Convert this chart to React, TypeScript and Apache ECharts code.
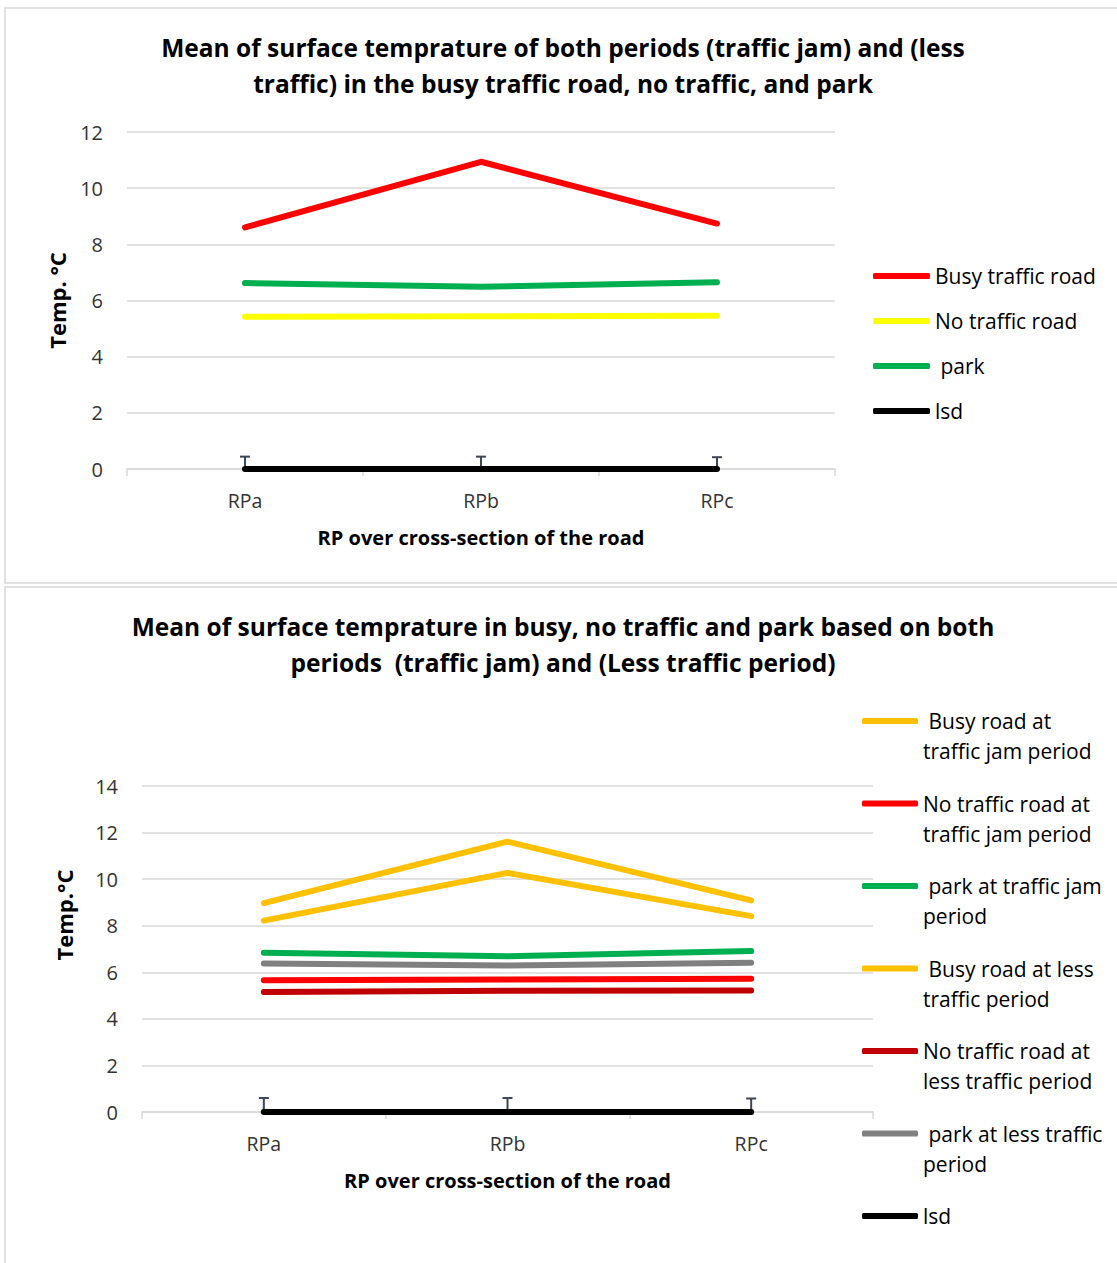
import React, { useEffect, useRef } from "react";
import * as echarts from "echarts";

const categories = ["RPa", "RPb", "RPc"];

// Top chart
const topBusy = [8.6, 10.94, 8.74];
const topNoTraffic = [5.42, 5.44, 5.46];
const topPark = [6.62, 6.49, 6.65];
const topLsd = [0, 0, 0];
const topLsdErr = [0.44, 0.44, 0.42];

// Bottom chart
const busyJam = [8.97, 11.61, 9.09];
const noTrafficJam = [5.66, 5.69, 5.72];
const parkJam = [6.84, 6.69, 6.91];
const busyLess = [8.22, 10.27, 8.41];
const noTrafficLess = [5.15, 5.21, 5.22];
const parkLess = [6.38, 6.29, 6.41];
const botLsd = [0, 0, 0];
const botLsdErr = [0.6, 0.6, 0.58];

const topTitle = "Mean of surface temprature of both periods (traffic jam) and (less\ntraffic) in the busy traffic road, no traffic, and park";
const botTitle = "Mean of surface temprature in busy, no traffic and park based on both\nperiods  (traffic jam) and (Less traffic period)";

const topNames = ["Busy traffic road", "No traffic road", " park", "lsd"];
const botNames = [
  "Busy road at traffic jam period",
  "No traffic road at traffic jam period",
  "park at traffic jam period",
  "Busy road at less traffic period",
  "No traffic road at less traffic period",
  "park at less traffic period",
  "lsd",
];
const botLegendText: Record<string, string> = {
  "Busy road at traffic jam period": "\n Busy road at\ntraffic jam period",
  "No traffic road at traffic jam period": "\nNo traffic road at\ntraffic jam period",
  "park at traffic jam period": "\n park at traffic jam\nperiod",
  "Busy road at less traffic period": "\n Busy road at less\ntraffic period",
  "No traffic road at less traffic period": "\nNo traffic road at\nless traffic period",
  "park at less traffic period": "\n park at less traffic\nperiod",
  lsd: "\nlsd\n",
};

const FONT = "Open Sans";

function lineSeries(name: string, data: number[], color: string, gi: number) {
  return {
    type: "line",
    name,
    data,
    xAxisIndex: gi,
    yAxisIndex: gi,
    symbol: "none",
    clip: false,
    color,
    lineStyle: { color, width: 6, cap: "round", join: "round" },
    z: 3,
  };
}

function errSeries(base: number[], err: number[], gi: number) {
  return {
    type: "custom",
    name: "err" + gi,
    xAxisIndex: gi,
    yAxisIndex: gi,
    clip: false,
    z: 2,
    data: categories.map((_, i) => [i, base[i], err[i]]),
    encode: { x: 0, y: 1 },
    renderItem: (params: any, api: any) => {
      const x = api.value(0);
      const b = api.coord([x, api.value(1)]);
      const t = api.coord([x, api.value(1) + api.value(2)]);
      const st = { stroke: "#3b4656", lineWidth: 2 };
      return {
        type: "group",
        children: [
          { type: "line", shape: { x1: b[0], y1: b[1], x2: t[0], y2: t[1] }, style: st },
          { type: "line", shape: { x1: t[0] - 5, y1: t[1], x2: t[0] + 5, y2: t[1] }, style: st },
        ],
      };
    },
  };
}

function xAxis(gi: number) {
  return {
    type: "category",
    gridIndex: gi,
    data: categories,
    boundaryGap: true,
    axisLine: { show: true, lineStyle: { color: "#d9d9d9", width: 1.5 } },
    axisTick: { show: true, length: 7, lineStyle: { color: "#d9d9d9", width: 1.5 } },
    axisLabel: { fontSize: 19.5, color: "#333", margin: 21, fontFamily: FONT },
    name: "RP over cross-section of the road",
    nameLocation: "middle",
    nameGap: 58,
    nameTextStyle: { fontSize: 20, fontWeight: "bold", color: "#000", fontFamily: FONT },
  };
}

function yAxis(gi: number, max: number, name: string, gap: number, pad: number[]) {
  return {
    type: "value",
    gridIndex: gi,
    min: 0,
    max,
    interval: 2,
    axisLine: { show: false },
    axisTick: { show: false },
    splitLine: { lineStyle: { color: "#d9d9d9", width: 1.5 } },
    axisLabel: { fontSize: 20, color: "#333", margin: 24, fontFamily: FONT },
    name,
    nameLocation: "middle",
    nameGap: gap,
    nameTextStyle: { fontSize: 22, fontWeight: "bold", color: "#000", fontFamily: FONT, padding: pad },
  };
}

export default function App() {
  const ref = useRef<HTMLDivElement>(null);
  useEffect(() => {
    if (!ref.current) return;
    const chart = echarts.init(ref.current, null, { renderer: "svg" });
    chart.setOption({
      animation: false,
      backgroundColor: "#fff",
      textStyle: { fontFamily: FONT },
      title: [
        {
          text: topTitle,
          left: 563,
          top: 29,
          padding: 0,
          textAlign: "center",
          textStyle: { fontSize: 24.5, fontWeight: "bold", color: "#000", lineHeight: 36, fontFamily: FONT },
        },
        {
          text: botTitle,
          left: 563,
          top: 608,
          padding: 0,
          textAlign: "center",
          textStyle: { fontSize: 24.5, fontWeight: "bold", color: "#000", lineHeight: 36, fontFamily: FONT },
        },
      ],
      graphic: [
        { type: "rect", shape: { x: 5, y: 8, width: 1120, height: 575 }, style: { fill: "none", stroke: "#d9d9d9", lineWidth: 1.5 }, z: -10 },
        { type: "rect", shape: { x: 5, y: 587, width: 1120, height: 690 }, style: { fill: "none", stroke: "#d9d9d9", lineWidth: 1.5 }, z: -10 },
      ],
      grid: [
        { left: 127, top: 132, width: 708, height: 337 },
        { left: 142, top: 786, width: 731, height: 326 },
      ],
      xAxis: [xAxis(0), xAxis(1)],
      yAxis: [yAxis(0, 12, "Temp. °C", 59, [0, 0, 0, 0]), yAxis(1, 14, "Temp.°C", 67, [0, 0, 0, 68])],
      legend: [
        {
          orient: "vertical",
          left: 873,
          top: 261,
          itemGap: 15,
          itemWidth: 57,
          itemHeight: 6,
          icon: "roundRect",
          data: topNames,
          padding: 0,
          textStyle: { fontSize: 21, lineHeight: 30, color: "#000", fontFamily: FONT },
        },
        {
          orient: "vertical",
          left: 862,
          top: 676,
          itemGap: -7.5,
          itemWidth: 56,
          itemHeight: 6,
          icon: "roundRect",
          data: botNames,
          padding: 0,
          formatter: (n: string) => botLegendText[n] ?? n,
          textStyle: { fontSize: 21, lineHeight: 30, color: "#000", fontFamily: FONT },
        },
      ],
      series: [
        errSeries(topLsd, topLsdErr, 0),
        lineSeries(topNames[0], topBusy, "#ff0000", 0),
        lineSeries(topNames[1], topNoTraffic, "#ffff00", 0),
        lineSeries(topNames[2], topPark, "#00b050", 0),
        lineSeries(topNames[3], topLsd, "#000000", 0),
        errSeries(botLsd, botLsdErr, 1),
        lineSeries(botNames[0], busyJam, "#ffc000", 1),
        lineSeries(botNames[1], noTrafficJam, "#ff0000", 1),
        lineSeries(botNames[2], parkJam, "#00b050", 1),
        lineSeries(botNames[3], busyLess, "#ffc000", 1),
        lineSeries(botNames[4], noTrafficLess, "#c00000", 1),
        lineSeries(botNames[5], parkLess, "#808080", 1),
        lineSeries(botNames[6], botLsd, "#000000", 1),
      ],
    });
    return () => chart.dispose();
  }, []);
  return <div ref={ref} style={{ position: "absolute", left: 0, top: 0, width: 1117, height: 1263 }} />;
}
